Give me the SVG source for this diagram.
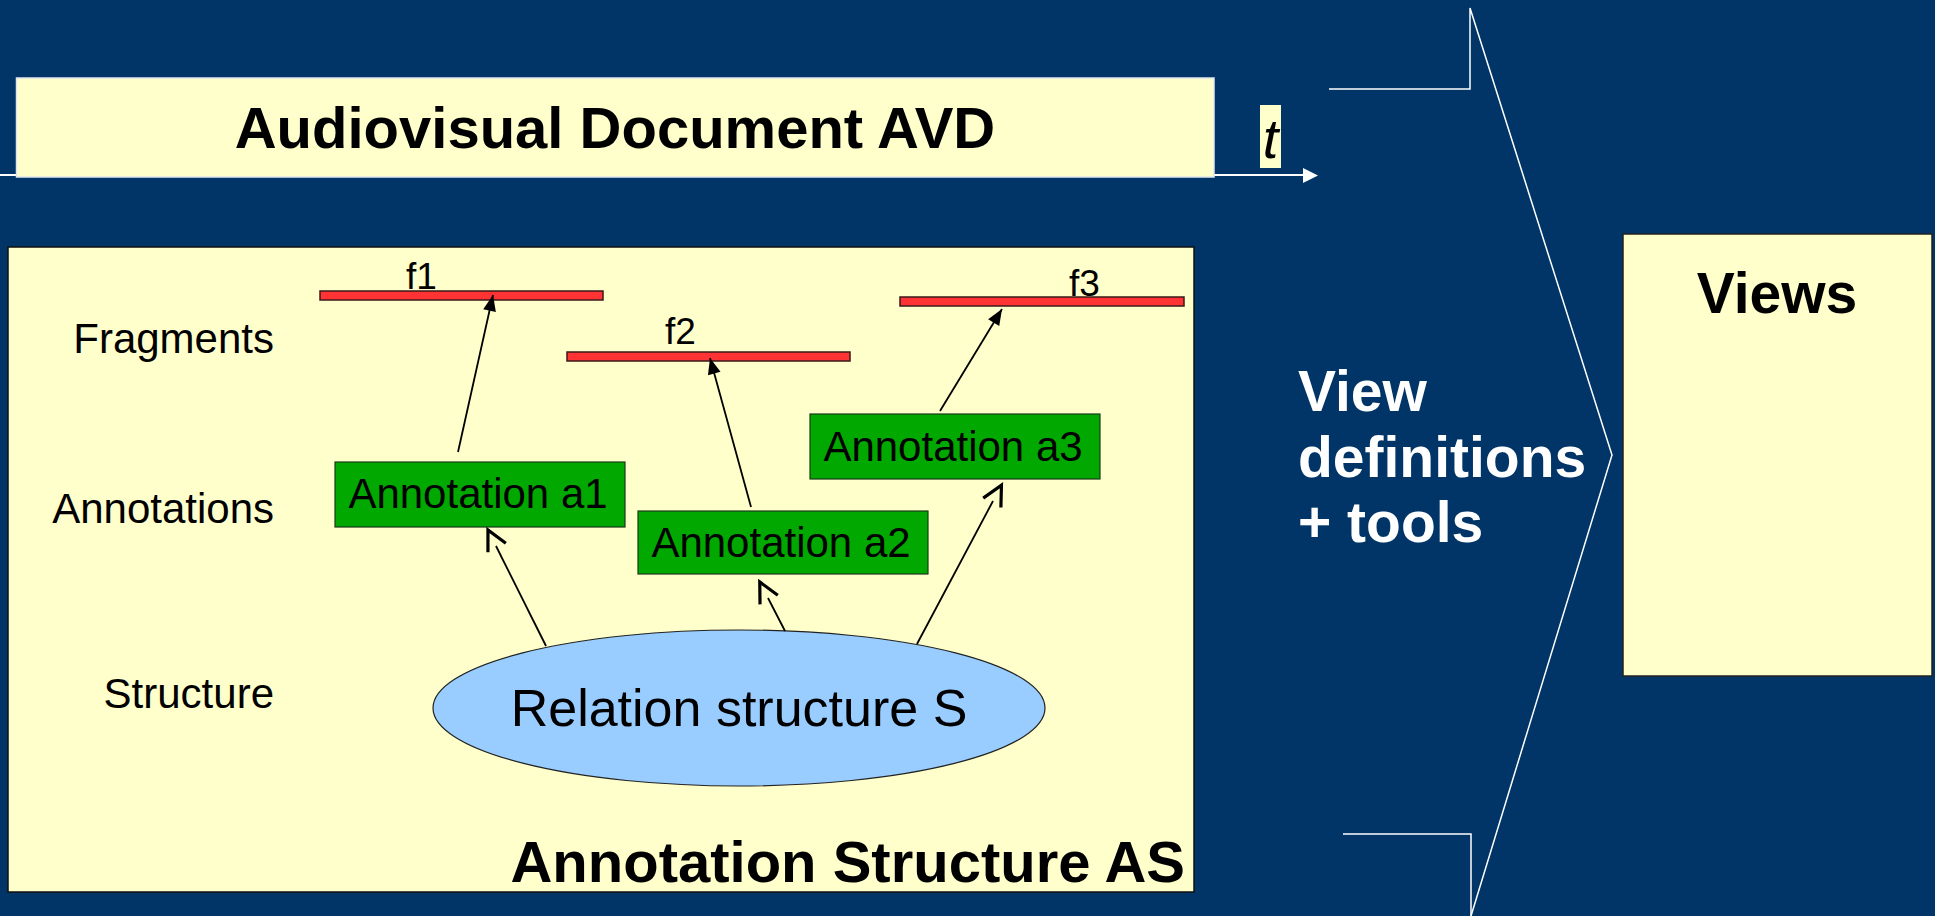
<svg xmlns="http://www.w3.org/2000/svg" width="1935" height="916" viewBox="0 0 1935 916">
<defs>
<style>
text{font-family:"Liberation Sans",Arial,sans-serif}
.bold{font-weight:bold}
.lbl{font-size:42px;fill:#000}
.ann{fill:#00A800;stroke:#1a3a1a;stroke-width:1.2}
.frag{fill:#FF3333;stroke:#3a1a1a;stroke-width:1.5}
.conn{stroke:#000;stroke-width:1.8;fill:none}
.wl{stroke:#fff;stroke-width:1.5;fill:none}
</style>
<marker id="fill" markerUnits="userSpaceOnUse" viewBox="-17 -8 18 16" refX="0" refY="0" markerWidth="18" markerHeight="16" orient="auto">
<path d="M0,0 L-16,-6.5 L-16,6.5 Z" fill="#000"/>
</marker>
<marker id="open" markerUnits="userSpaceOnUse" viewBox="-44 -14 48 28" refX="-18" refY="0" markerWidth="48" markerHeight="28" orient="auto">
<path d="M-20,-10 L0,0 L-20,10" fill="none" stroke="#000" stroke-width="3.2"/>
</marker>
</defs>
<rect x="0" y="0" width="1935" height="916" fill="#013567"/>
<text x="309" y="-12" class="bold" font-size="58" fill="#FF9966"><tspan x="309">g</tspan><tspan x="372">y</tspan></text>

<g id="time-axis">
<line x1="0" y1="175" x2="1305" y2="175" stroke="#fff" stroke-width="2"/>
<polygon points="1303,168 1318,175.5 1303,183" fill="#fff"/>
</g>
<g id="avd">
<rect x="16.5" y="78" width="1197.5" height="99" fill="#FFFFCC" stroke="#dfe6ee" stroke-width="1.5"/>
<text x="615" y="148" class="bold" font-size="58" text-anchor="middle">Audiovisual Document AVD</text>
</g>
<g id="t-label">
<rect x="1260" y="105" width="21" height="63" fill="#FFFFCC"/>
<text x="1270.5" y="158" font-size="56" font-style="italic" text-anchor="middle">t</text>
</g>

<g id="process-arrow">
<polyline class="wl" points="1329,89 1470,89 1470,8 1612,455 1471,916"/>
<polyline class="wl" points="1343,834 1471,834 1471,916"/>
<text x="1298" y="411" class="bold" font-size="57" fill="#fff">View</text>
<text x="1298" y="477" class="bold" font-size="57" fill="#fff">definitions</text>
<text x="1298" y="542" class="bold" font-size="57" fill="#fff">+ tools</text>
</g>

<g id="views">
<rect x="1623" y="234" width="309" height="442" fill="#FFFFCC" stroke="#222" stroke-width="1.5"/>
<text x="1777" y="313" class="bold" font-size="57" text-anchor="middle">Views</text>
</g>

<g id="annotation-structure">
<rect x="8" y="247" width="1186" height="645" fill="#FFFFCC" stroke="#111" stroke-width="1.5"/>
<text x="1185" y="882" class="bold" font-size="58" text-anchor="end">Annotation Structure AS</text>
<text x="274" y="353" class="lbl" text-anchor="end">Fragments</text>
<text x="274" y="523" class="lbl" text-anchor="end">Annotations</text>
<text x="274" y="708" class="lbl" text-anchor="end">Structure</text>
</g>

<g id="f1">
<rect class="frag" x="320" y="291" width="283" height="9"/>
<text x="406" y="289" font-size="37">f1</text>
</g>
<g id="f2">
<rect class="frag" x="567" y="352" width="283" height="9"/>
<text x="665" y="344" font-size="37">f2</text>
</g>
<g id="f3">
<rect class="frag" x="900" y="297" width="284" height="9"/>
<text x="1069" y="296" font-size="37">f3</text>
</g>

<g id="a1">
<rect class="ann" x="335" y="462" width="290" height="65"/>
<text x="478" y="508" class="lbl" text-anchor="middle">Annotation a1</text>
</g>
<g id="a2">
<rect class="ann" x="638" y="511" width="290" height="63"/>
<text x="781" y="557" class="lbl" text-anchor="middle">Annotation a2</text>
</g>
<g id="a3">
<rect class="ann" x="810" y="414" width="290" height="65"/>
<text x="953" y="461" class="lbl" text-anchor="middle">Annotation a3</text>
</g>

<g id="s">
<ellipse cx="739" cy="708" rx="306" ry="78" fill="#99CCFF" stroke="#222" stroke-width="1.2"/>
<text x="739" y="726" font-size="52" text-anchor="middle">Relation structure S</text>
</g>

<g id="connectors">
<line class="conn" x1="458" y1="452" x2="493" y2="295" marker-end="url(#fill)"/>
<line class="conn" x1="751" y1="507" x2="710" y2="358" marker-end="url(#fill)"/>
<line class="conn" x1="940" y1="411" x2="1002" y2="309" marker-end="url(#fill)"/>
<line class="conn" x1="546" y1="646" x2="496" y2="546" marker-end="url(#open)"/>
<line class="conn" x1="785" y1="631" x2="768" y2="598" marker-end="url(#open)"/>
<line class="conn" x1="917" y1="644" x2="993" y2="501" marker-end="url(#open)"/>
</g>
</svg>
